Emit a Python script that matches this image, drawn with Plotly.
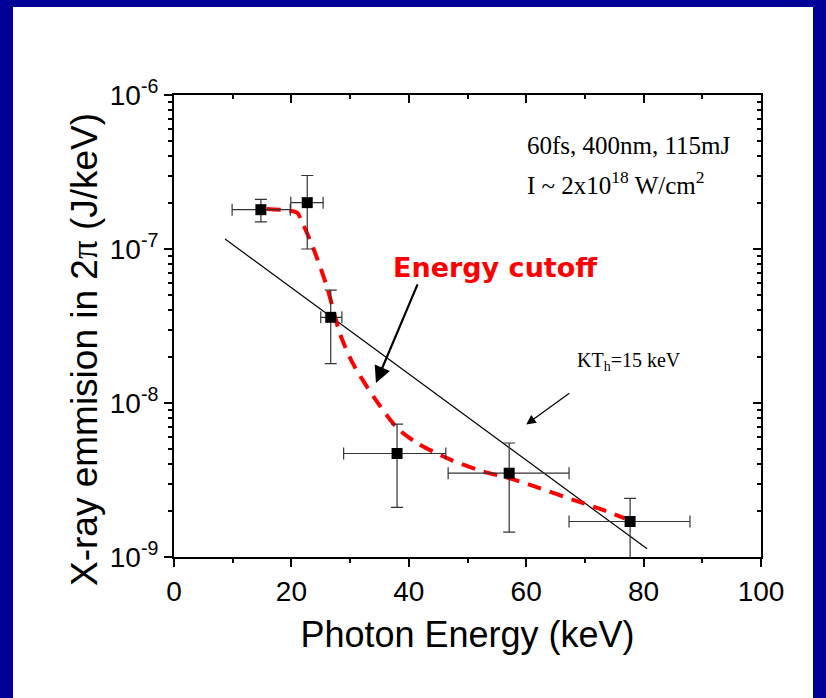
import plotly.graph_objects as go

# ---- data ----
energy = [14.8, 22.7, 26.7, 38.0, 57.1, 77.7]
emission = [1.8e-7, 2.0e-7, 3.6e-8, 4.7e-9, 3.5e-9, 1.7e-9]
emission_hi = [2.1e-7, 3.0e-7, 5.4e-8, 7.3e-9, 5.5e-9, 2.4e-9]
emission_lo = [1.5e-7, 1.0e-7, 1.8e-8, 2.1e-9, 1.45e-9, 9.0e-10]
energy_lo = [9.9, 19.9, 25.0, 28.9, 46.7, 67.3]
energy_hi = [19.8, 25.4, 28.6, 46.3, 67.3, 87.9]

cutoff_x = [15.8, 19.5, 21.0, 21.8, 23.7, 26.1, 28.3, 30.5, 34.2, 38.0,
            41.4, 47.0, 52.6, 57.2, 62.3, 68.0, 72.6, 76.8]
cutoff_y = [1.82e-7, 1.78e-7, 1.72e-7, 1.5e-7, 1.02e-7, 5.6e-8, 2.8e-8, 1.8e-8,
            1.07e-8, 6.9e-9, 5.5e-9, 4.3e-9, 3.6e-9, 3.24e-9, 2.8e-9, 2.35e-9,
            2.05e-9, 1.78e-9]

fit_x = [8.7, 80.6]
fit_y = [1.16e-7, 1.13e-9]

x_ticks = [0, 20, 40, 60, 80, 100]
y_ticks = [1e-9, 1e-8, 1e-7, 1e-6]
y_ticktext = ["10<sup>-9</sup>", "10<sup>-8</sup>", "10<sup>-7</sup>", "10<sup>-6</sup>"]

# ---- figure ----
SANS = "Liberation Sans, Arial, sans-serif"
SERIF = "Liberation Serif, Times New Roman, serif"
NAVY = "#000099"

err_y_plus = [h - v for h, v in zip(emission_hi, emission)]
err_y_minus = [v - l for l, v in zip(emission_lo, emission)]
err_x_plus = [h - v for h, v in zip(energy_hi, energy)]
err_x_minus = [v - l for l, v in zip(energy_lo, energy)]

minor_y = [k * 10.0 ** e for e in (-9, -8, -7) for k in range(2, 10)]

fig = go.Figure()

fig.add_trace(go.Scatter(x=fit_x, y=fit_y, mode="lines",
                         line=dict(color="black", width=1.2),
                         showlegend=False, hoverinfo="skip"))
fig.add_trace(go.Scatter(x=cutoff_x, y=cutoff_y, mode="lines",
                         line=dict(color="#FF0000", width=4, dash="14px,9px", shape="spline", smoothing=0.8),
                         showlegend=False, hoverinfo="skip"))
fig.add_trace(go.Scatter(
    x=energy, y=emission, mode="markers",
    marker=dict(symbol="square", size=11, color="black"),
    error_y=dict(type="data", symmetric=False, array=err_y_plus, arrayminus=err_y_minus,
                 color="#333333", thickness=1.2, width=6),
    error_x=dict(type="data", symmetric=False, array=err_x_plus, arrayminus=err_x_minus,
                 color="#333333", thickness=1.2, width=6),
    showlegend=False))

# dummy traces to activate mirror axes
fig.add_trace(go.Scatter(x=[50], y=[1e-7], xaxis="x2", yaxis="y", mode="markers",
                         marker=dict(opacity=0), showlegend=False, hoverinfo="skip"))
fig.add_trace(go.Scatter(x=[50], y=[1e-7], xaxis="x", yaxis="y2", mode="markers",
                         marker=dict(opacity=0), showlegend=False, hoverinfo="skip"))

L, R, T, B = 174, 65, 95, 141
W, H = 826, 698
pw, ph = W - L - R, H - T - B


def px2paper_x(px):
    return (px - L) / pw


def py2paper_y(py):
    return (H - B - py) / ph


# navy frame (left, top, right)
for (x0, x1, y0, y1) in [(-20, 13, -20, H + 20), (-20, W + 20, -20, 7), (813, W + 20, -20, H + 20)]:
    fig.add_shape(type="rect", xref="paper", yref="paper", layer="below",
                  x0=px2paper_x(x0), x1=px2paper_x(x1), y0=py2paper_y(y1), y1=py2paper_y(y0),
                  fillcolor=NAVY, line=dict(width=0))

axis_common = dict(showline=True, linecolor="black", linewidth=2, showgrid=False,
                   zeroline=False, tickcolor="black", tickwidth=2, ticklen=8)

fig.update_layout(
    width=W, height=H,
    margin=dict(l=L, r=R, t=T, b=B, pad=0),
    paper_bgcolor="white", plot_bgcolor="white",
    xaxis=dict(range=[0, 100], tickmode="array", tickvals=x_ticks, ticks="outside",
               tickfont=dict(family=SANS, size=28, color="black"),
               minor=dict(dtick=10, ticks="outside", ticklen=4, tickwidth=1.5, tickcolor="black"),
               title=dict(text="Photon Energy (keV)", font=dict(family=SANS, size=36, color="black"),
                          standoff=16),
               **axis_common),
    xaxis2=dict(range=[0, 100], overlaying="x", side="top", anchor="y", tickmode="array",
                tickvals=x_ticks, ticks="inside", showticklabels=False,
                minor=dict(dtick=10, ticks="inside", ticklen=4, tickwidth=1.5, tickcolor="black"),
                **axis_common),
    yaxis=dict(type="log", range=[-9, -6], tickmode="array", tickvals=y_ticks, ticktext=y_ticktext,
               ticks="outside", tickfont=dict(family=SANS, size=28, color="black"),
               minor=dict(tickmode="array", tickvals=minor_y, ticks="outside", ticklen=4,
                          tickwidth=1.5, tickcolor="black"),
               **axis_common),
    yaxis2=dict(type="log", range=[-9, -6], overlaying="y", side="right", anchor="x",
                tickmode="array", tickvals=y_ticks, ticks="inside", showticklabels=False,
                minor=dict(tickmode="array", tickvals=minor_y, ticks="inside", ticklen=4,
                           tickwidth=1.5, tickcolor="black"),
                **axis_common),
)

# y-axis title (placed as rotated annotation to match the reference offset)
fig.add_annotation(x=px2paper_x(84), y=py2paper_y(350), xref="paper", yref="paper",
                   text="X-ray emmision in 2<span style=\"font-family:Liberation Serif\">\u03c0</span> (J/keV)",
                   textangle=-90, showarrow=False,
                   xanchor="center", yanchor="middle",
                   font=dict(family=SANS, size=37, color="black"))

# annotations
fig.add_annotation(x=59.8, y=-6.325, xref="x", yref="y", text="60fs, 400nm, 115mJ",
                   showarrow=False, xanchor="left", yanchor="middle",
                   font=dict(family=SERIF, size=25, color="black"))
fig.add_annotation(x=59.8, y=-6.57, xref="x", yref="y",
                   text="I ~ 2x10<sup>18</sup> W/cm<sup>2</sup>",
                   showarrow=False, xanchor="left", yanchor="middle",
                   font=dict(family=SERIF, size=25, color="black"))
fig.add_annotation(x=54.7, y=-7.123, xref="x", yref="y", text="<b>Energy cutoff</b>",
                   showarrow=False, xanchor="center", yanchor="middle",
                   font=dict(family="Comic Sans MS, DejaVu Sans, sans-serif", size=27, color="#FF0000"))
fig.add_annotation(x=68.3, y=-7.73, xref="x", yref="y", text="KT<sub>h</sub>=15 keV",
                   showarrow=False, xanchor="left", yanchor="middle",
                   font=dict(family=SERIF, size=20, color="black"))

# arrows
fig.add_annotation(x=34.4, y=-7.87, ax=41.6, ay=-7.22, xref="x", yref="y", axref="x", ayref="y",
                   text="", showarrow=True, arrowhead=2, arrowsize=1.5, arrowwidth=2.2,
                   arrowcolor="black")
fig.add_annotation(x=60.0, y=-8.14, ax=67.6, ay=-7.93, xref="x", yref="y", axref="x", ayref="y",
                   text="", showarrow=True, arrowhead=2, arrowsize=1.6, arrowwidth=1.2,
                   arrowcolor="black")

fig.write_html("out.html")
